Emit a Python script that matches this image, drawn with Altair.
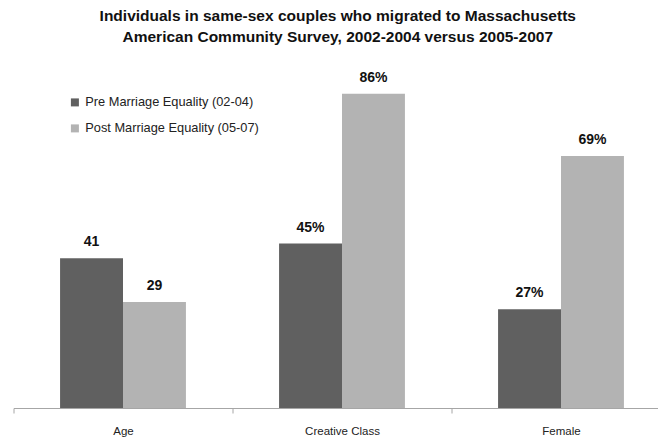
import altair as alt
import pandas as pd

categories = ["Age", "Creative Class", "Female"]
series = ["Pre Marriage Equality (02-04)", "Post Marriage Equality (05-07)"]
pre_values = [41, 45, 27]
post_values = [29, 86, 69]
pre_labels = ["41", "45%", "27%"]
post_labels = ["29", "86%", "69%"]
colors = ["#606060", "#b3b3b3"]

rows = []
for i, c in enumerate(categories):
    rows.append({"cat": c, "series": series[0], "value": pre_values[i], "label": pre_labels[i]})
    rows.append({"cat": c, "series": series[1], "value": post_values[i], "label": post_labels[i]})
df = pd.DataFrame(rows)

FONT = "Liberation Sans"

x = alt.X("cat:N", sort=categories, title=None,
          scale=alt.Scale(paddingInner=0, paddingOuter=0, range=[0, 657]),
          axis=alt.Axis(labelAngle=0, tickBand="extent", tickSize=5, labelPadding=12,
                        labelFontSize=11.5, labelFont=FONT, labelColor="#222222",
                        domainColor="#a6a6a6", tickColor="#a6a6a6", grid=False))
xo = alt.XOffset("series:N", sort=series, scale=alt.Scale(paddingInner=0, paddingOuter=0.74))
y = alt.Y("value:Q", scale=alt.Scale(domain=[0, 90.6]), axis=None)

bars = alt.Chart(df).mark_bar().encode(
    x=x, xOffset=xo, y=y,
    color=alt.Color("series:N", sort=series,
                    scale=alt.Scale(domain=series, range=colors),
                    legend=alt.Legend(title=None, orient="none", legendX=55, legendY=19,
                                      symbolType="square", symbolSize=64, symbolStrokeWidth=0,
                                      labelFont=FONT, labelFontSize=12.8, labelColor="#222222",
                                      labelLimit=400, rowPadding=12, labelOffset=4)),
)

labels = alt.Chart(df).mark_text(baseline="bottom", dy=-9, fontWeight="bold",
                                 fontSize=14, font=FONT, color="#111111").encode(
    x=x, xOffset=xo, y=y, text="label:N"
)

chart = (bars + labels).properties(
    width=644.5, height=331,
    autosize=alt.AutoSizeParams(type="none"),
    title=alt.TitleParams(
        ["Individuals in same-sex couples who migrated to Massachusetts",
         "American Community Survey, 2002-2004 versus 2005-2007"],
        font=FONT, fontSize=15.5, fontWeight="bold", color="#111111",
        anchor="middle", dx=2, lineHeight=21, offset=25),
    padding={"left": 5.5, "top": 69, "right": 0, "bottom": 30},
).configure_view(stroke=None)

chart.save("out.html", embed_options={"renderer": "svg", "actions": False})
